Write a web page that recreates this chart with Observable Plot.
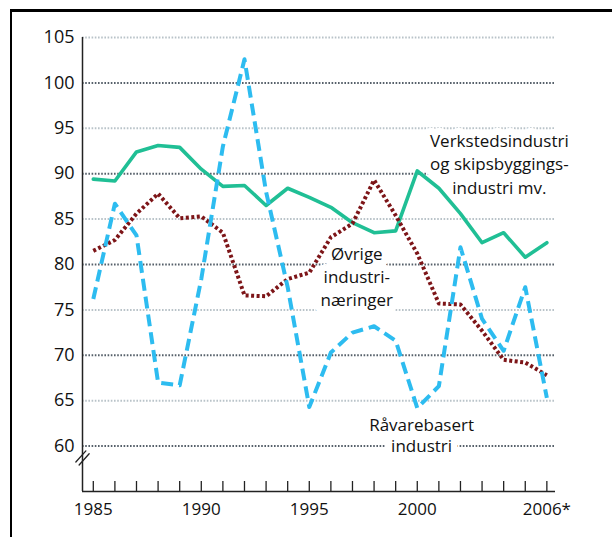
<!DOCTYPE html>
<html>
<head>
<meta charset="utf-8">
<script src="https://cdn.jsdelivr.net/npm/d3@7"></script>
<script src="https://cdn.jsdelivr.net/npm/@observablehq/plot@0.6"></script>
<style>
  html, body { margin: 0; padding: 0; background: #fff; overflow: hidden; }
  #wrap { position: relative; width: 612px; height: 537px; }
  #frame { position: absolute; left: 10px; top: 9px; width: 800px; height: 700px;
           border-left: 2.5px solid #000; border-top: 3px solid #000; pointer-events: none; }
  #chart { position: absolute; left: 0; top: 0; }
</style>
</head>
<body>
<div id="wrap"><div id="chart"></div><div id="frame"></div></div>
<script>
const years = [1985,1986,1987,1988,1989,1990,1991,1992,1993,1994,1995,1996,1997,1998,1999,2000,2001,2002,2003,2004,2005,2006];
const verksted = [89.4,89.2,92.4,93.1,92.9,90.5,88.6,88.7,86.5,88.4,87.4,86.3,84.6,83.5,83.7,90.3,88.4,85.6,82.4,83.5,80.8,82.4];
const ovrige   = [81.5,82.7,85.6,87.8,85.1,85.3,83.5,76.6,76.5,78.4,79.1,83.0,84.5,89.3,85.4,81.2,75.7,75.6,72.7,69.5,69.2,67.8];
const ravare   = [76.2,86.7,83.2,67.0,66.7,78.4,93.0,102.6,88.0,77.5,64.3,70.3,72.5,73.2,71.6,64.2,66.6,81.9,74.0,70.5,77.5,65.3];
const yTicks = [60,65,70,75,80,85,90,95,100,105];
const xLabelYears = [1985,1990,1995,2000,2006];
const xLabelText = ["1985","1990","1995","2000","2006*"];
const xDomain = [1984.5, 2006.4];
const yDomain = [55, 105];
const axisBreak = 58.7;

const series = [
  {name: "Verkstedsindustri", values: verksted},
  {name: "Øvrige", values: ovrige},
  {name: "Råvarebasert", values: ravare}
];
const table = series.flatMap(s => s.values.map((v, i) => ({series: s.name, year: years[i], value: v})));
const annotations = [
  {x: 2003.8, y: 91.2, text: "Verkstedsindustri\nog skipsbyggings-\nindustri mv.", lh: 1.38},
  {x: 1997.2, y: 78.8, text: "Øvrige\nindustri-\nnæringer", lh: 1.35},
  {x: 2000.2, y: 61.3, text: "Råvarebasert\nindustri", lh: 1.24}
];

const breakShape = {
  draw(context, l) {
    context.moveTo(-2.2, 0); context.lineTo(-2.2, -l);
    context.moveTo(2.2, 0); context.lineTo(2.2, -l);
  }
};

const font = "'Open Sans', 'Noto Sans', sans-serif";
const plot = Plot.plot({
  width: 612,
  height: 537,
  marginLeft: 82,
  marginRight: 57,
  marginTop: 37,
  marginBottom: 46,
  style: {fontFamily: font, fontSize: "17px", color: "#111", background: "transparent"},
  x: {domain: xDomain},
  y: {domain: yDomain},
  marks: [
    Plot.ruleY(yTicks, {y: d => d, stroke: d => d % 10 === 0 ? "#56606a" : "#b9c3c9", strokeWidth: 2, strokeDasharray: "1.6,1.6"}),
    ...annotations.map(a => Plot.text([a], {x: "x", y: "y", text: "text", lineHeight: a.lh, fontSize: 17, fill: "#111", stroke: "white", strokeWidth: 14, strokeLinejoin: "round", paintOrder: "stroke"})),
    Plot.line(table.filter(d => d.series === "Verkstedsindustri"), {x: "year", y: "value", stroke: "#20bf95", strokeWidth: 3.6}),
    Plot.line(table.filter(d => d.series === "Øvrige"), {x: "year", y: "value", stroke: "#7d1518", strokeWidth: 4, strokeDasharray: "3,2.5", strokeLinecap: "butt"}),
    Plot.line(table.filter(d => d.series === "Råvarebasert"), {x: "year", y: "value", stroke: "#2dbcf0", strokeWidth: 4, strokeDasharray: "12,6", strokeLinecap: "butt"}),
    Plot.ruleX([xDomain[0]], {stroke: "#222", strokeWidth: 1.5}),
    Plot.ruleY([yDomain[0]], {stroke: "#222", strokeWidth: 1.5}),
    Plot.axisX({ticks: years, tickSize: 10, dy: -10, tickFormat: () => "", stroke: "#222", strokeWidth: 1.3}),
    Plot.axisX({ticks: xLabelYears, tickSize: 0, tickPadding: 11, fontSize: 17, tickFormat: d => xLabelText[xLabelYears.indexOf(d)]}),
    Plot.axisY({ticks: yTicks, tickSize: 0, tickPadding: 8, fontSize: 18}),
    Plot.vector([axisBreak], {x: xDomain[0], y: d => d, length: 15, rotate: 42, anchor: "middle", shape: breakShape, stroke: "#222", strokeWidth: 1.3})
  ]
});
document.getElementById("chart").appendChild(plot);
</script>
</body>
</html>
